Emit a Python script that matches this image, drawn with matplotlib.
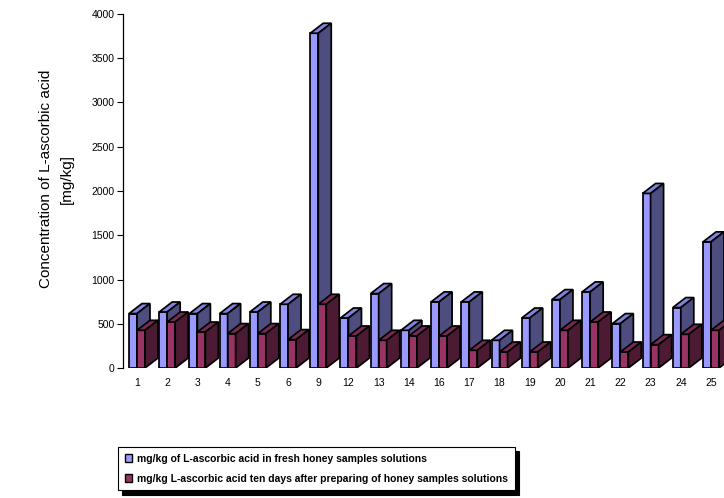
import numpy as np
import matplotlib
matplotlib.use("Agg")
import matplotlib.pyplot as plt
from matplotlib.patches import Polygon, Patch

plt.rcParams["font.family"] = ["Liberation Sans", "DejaVu Sans"]

samples = ["1", "2", "3", "4", "5", "6", "9", "12", "13", "14",
           "16", "17", "18", "19", "20", "21", "22", "23", "24", "25"]
fresh = [615, 633, 615, 615, 633, 720, 3782, 565, 841, 426,
         747, 747, 313, 565, 773, 860, 502, 1972, 683, 1425]
ten_days = [426, 520, 407, 389, 389, 321, 720, 362, 313, 362,
            362, 200, 181, 181, 426, 520, 181, 264, 381, 426]

series_labels = ["mg/kg of L-ascorbic acid in fresh honey samples solutions",
                 "mg/kg L-ascorbic acid ten days after preparing of honey samples solutions"]

# front, top, side colours for each series
blue = ("#9999FF", "#8282DC", "#4D4D80")
red = ("#993366", "#7A2952", "#4D1A33")

fig = plt.figure(figsize=(7.24, 4.98), dpi=100)
ax = fig.add_axes([0.170, 0.261, 0.830, 0.711])

x = np.arange(len(samples))
ax.set_xlim(-0.46, len(samples) - 1 + 0.43)
ax.set_ylim(0, 4000)

# depth of the 3-d bars, given in pixels and turned into data units
bbox = ax.get_window_extent()
xr = ax.get_xlim()
yr = ax.get_ylim()
dx = 13 * (xr[1] - xr[0]) / bbox.width
dy = 10 * (yr[1] - yr[0]) / bbox.height
w = 0.265


def bar3d(left, value, colors):
    front, top, side = colors
    right = left + w
    kw = dict(closed=True, edgecolor="black", lw=1.25, joinstyle="miter")
    ax.add_patch(Polygon([(left, 0), (right, 0), (right, value), (left, value)],
                         facecolor=front, **kw))
    ax.add_patch(Polygon([(left, value), (right, value), (right + dx, value + dy),
                          (left + dx, value + dy)], facecolor=top, **kw))
    ax.add_patch(Polygon([(right, 0), (right + dx, dy), (right + dx, value + dy),
                          (right, value)], facecolor=side, **kw))


for xi, f, t in zip(x, fresh, ten_days):
    bar3d(xi - w, f, blue)
    bar3d(xi, t, red)

ax.set_yticks(np.arange(0, 4001, 500))
ax.set_xticks(x)
ax.set_xticklabels(samples)
ax.tick_params(axis="y", labelsize=7.5, length=4, width=0.8, direction="out", pad=2)
ax.tick_params(axis="x", labelsize=7.5, length=0, pad=7)
for s in ["top", "right", "bottom"]:
    ax.spines[s].set_visible(False)
ax.spines["left"].set_linewidth(0.9)

fig.text(0.063, 0.640, "Concentration of L-ascorbic acid", rotation=90,
         ha="center", va="center", fontsize=11)
fig.text(0.093, 0.640, "[mg/kg]", rotation=90, ha="center", va="center", fontsize=11)

handles = [Patch(facecolor=blue[0], edgecolor="black", lw=1.0),
           Patch(facecolor=red[0], edgecolor="black", lw=1.0)]
leg = fig.legend(handles, series_labels, loc="upper left",
                 bbox_to_anchor=(118 / 724, 1 - 447 / 498),
                 prop={"size": 7.5, "weight": "bold"},
                 handlelength=0.7, handleheight=0.7, handletextpad=0.5,
                 labelspacing=0.95, borderpad=0.65, borderaxespad=0,
                 fancybox=False, framealpha=1,
                 shadow={"color": "black", "alpha": 1, "shade": 1.0, "ox": 3, "oy": -3})
leg.get_frame().set_edgecolor("black")
leg.get_frame().set_linewidth(0.8)

fig.savefig("out.png", dpi=100)
